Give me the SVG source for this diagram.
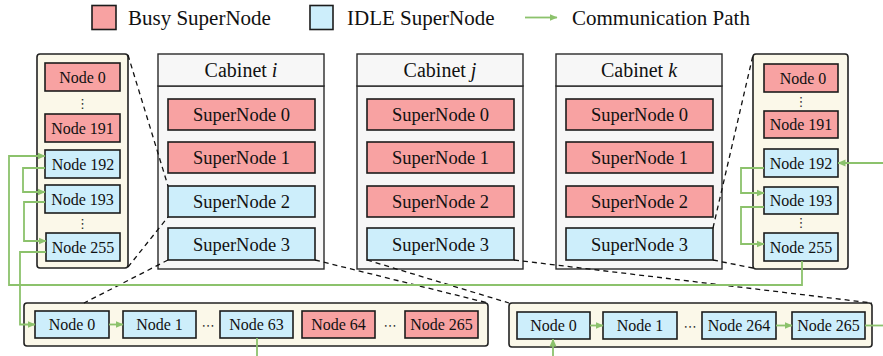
<svg xmlns="http://www.w3.org/2000/svg" width="883" height="356" viewBox="0 0 883 356">
  <style>
    .busy { fill: #f8a2a2; stroke: #1c1c1c; stroke-width: 1.6; }
    .idle { fill: #cdeefb; stroke: #1c1c1c; stroke-width: 1.6; }
    .panel { fill: #fbf8e9; stroke: #222; stroke-width: 1.6; }
    .cab { fill: #f7f7f7; stroke: #2a2a2a; stroke-width: 1.4; }
    .t { font-family: "Liberation Serif", "Times New Roman", serif; fill: #111; text-anchor: middle; }
    .n { font-size: 16px; }
    .sn { font-size: 18.5px; }
    .hd { font-size: 20px; }
    .lg { font-family: "Liberation Serif", "Times New Roman", serif; font-size: 21px; fill: #111; }
    .dots { font-family: "DejaVu Sans", sans-serif; font-size: 13px; fill: #333; text-anchor: middle; }
    .dash { fill: none; stroke: #111; stroke-width: 1.3; stroke-dasharray: 5 4; }
    .link { fill: none; stroke: #8cc26c; stroke-width: 1.8; }
    .arr { marker-end: url(#head); }
  </style>
  <defs>
    <marker id="head" viewBox="0 0 8 8" refX="7.5" refY="4" markerWidth="8" markerHeight="8" markerUnits="userSpaceOnUse" orient="auto">
      <path d="M0,0.5 L8,4 L0,7.5 Z" fill="#8cc26c"/>
    </marker>
  </defs>

  <!-- legend -->
  <g id="legend">
    <rect class="busy" x="92" y="5.5" width="24" height="24"/>
    <text class="lg" x="128" y="25">Busy SuperNode</text>
    <rect class="idle" x="310" y="5.5" width="23" height="24"/>
    <text class="lg" x="347" y="25">IDLE SuperNode</text>
    <line class="link arr" x1="525" y1="17.5" x2="557" y2="17.5"/>
    <text class="lg" x="572" y="25">Communication Path</text>
  </g>

  <!-- cabinets -->
  <g id="cabinet-i">
    <rect class="cab" x="158" y="86" width="166" height="183"/>
    <rect class="cab" x="158" y="54" width="166" height="32"/>
    <text class="t hd" x="241" y="77">Cabinet <tspan font-style="italic">i</tspan></text>
    <rect class="busy" x="168" y="99" width="147" height="31"/>
    <text class="t sn" x="241.5" y="121">SuperNode 0</text>
    <rect class="busy" x="168" y="142" width="147" height="31"/>
    <text class="t sn" x="241.5" y="164">SuperNode 1</text>
    <rect class="idle" x="168" y="186" width="147" height="31"/>
    <text class="t sn" x="241.5" y="208">SuperNode 2</text>
    <rect class="idle" x="168" y="228" width="147" height="32"/>
    <text class="t sn" x="241.5" y="250.5">SuperNode 3</text>
  </g>
  <g id="cabinet-j">
    <rect class="cab" x="357" y="86" width="166" height="183"/>
    <rect class="cab" x="357" y="54" width="166" height="32"/>
    <text class="t hd" x="440" y="77">Cabinet <tspan font-style="italic">j</tspan></text>
    <rect class="busy" x="367" y="99" width="147" height="31"/>
    <text class="t sn" x="440.5" y="121">SuperNode 0</text>
    <rect class="busy" x="367" y="142" width="147" height="31"/>
    <text class="t sn" x="440.5" y="164">SuperNode 1</text>
    <rect class="busy" x="367" y="186" width="147" height="31"/>
    <text class="t sn" x="440.5" y="208">SuperNode 2</text>
    <rect class="idle" x="367" y="228" width="147" height="32"/>
    <text class="t sn" x="440.5" y="250.5">SuperNode 3</text>
  </g>
  <g id="cabinet-k">
    <rect class="cab" x="556" y="86" width="166" height="183"/>
    <rect class="cab" x="556" y="54" width="166" height="32"/>
    <text class="t hd" x="639" y="77">Cabinet <tspan font-style="italic">k</tspan></text>
    <rect class="busy" x="566" y="99" width="147" height="31"/>
    <text class="t sn" x="639.5" y="121">SuperNode 0</text>
    <rect class="busy" x="566" y="142" width="147" height="31"/>
    <text class="t sn" x="639.5" y="164">SuperNode 1</text>
    <rect class="busy" x="566" y="186" width="147" height="31"/>
    <text class="t sn" x="639.5" y="208">SuperNode 2</text>
    <rect class="idle" x="566" y="228" width="147" height="32"/>
    <text class="t sn" x="639.5" y="250.5">SuperNode 3</text>
  </g>

  <!-- expanded SuperNode 2 of cabinet i -->
  <g id="panel-left">
    <rect class="panel" x="37" y="54" width="91" height="214" rx="3"/>
    <rect class="busy" x="45" y="63" width="75" height="28"/>
    <text class="t n" x="82.5" y="82.5">Node 0</text>
    <text class="dots" x="82.5" y="108">⋮</text>
    <rect class="busy" x="45" y="114" width="75" height="28"/>
    <text class="t n" x="82.5" y="133.5">Node 191</text>
    <rect class="idle" x="45" y="150" width="75" height="28"/>
    <text class="t n" x="83" y="169.5">Node 192</text>
    <rect class="idle" x="45" y="185" width="75" height="28"/>
    <text class="t n" x="82.5" y="204.5">Node 193</text>
    <text class="dots" x="82.5" y="228">⋮</text>
    <rect class="idle" x="46" y="233" width="74" height="28"/>
    <text class="t n" x="83" y="252.5">Node 255</text>
  </g>

  <!-- expanded SuperNode 3 of cabinet k -->
  <g id="panel-right">
    <rect class="panel" x="753" y="54" width="95" height="215" rx="3"/>
    <rect class="busy" x="764" y="64" width="74" height="28"/>
    <text class="t n" x="803" y="83.5">Node 0</text>
    <text class="dots" x="801" y="106">⋮</text>
    <rect class="busy" x="764" y="111" width="74" height="27"/>
    <text class="t n" x="801" y="130">Node 191</text>
    <rect class="idle" x="764" y="149" width="74" height="28"/>
    <text class="t n" x="801" y="168.5">Node 192</text>
    <rect class="idle" x="764" y="187" width="74" height="27"/>
    <text class="t n" x="801" y="206">Node 193</text>
    <text class="dots" x="801" y="227">⋮</text>
    <rect class="idle" x="764" y="233" width="74" height="28"/>
    <text class="t n" x="801" y="252.5">Node 255</text>
  </g>

  <!-- expanded SuperNode 3 of cabinet i -->
  <g id="panel-bottom-left">
    <rect class="panel" x="24" y="303" width="464" height="43" rx="3"/>
    <rect class="idle" x="35" y="311" width="74" height="27"/>
    <text class="t n" x="72" y="330">Node 0</text>
    <rect class="idle" x="123" y="311" width="73" height="27"/>
    <text class="t n" x="159.5" y="330">Node 1</text>
    <text class="dots" x="208" y="330">⋯</text>
    <rect class="idle" x="220" y="311" width="73" height="27"/>
    <text class="t n" x="256.5" y="330">Node 63</text>
    <rect class="busy" x="302" y="311" width="73" height="27"/>
    <text class="t n" x="338.5" y="330">Node 64</text>
    <text class="dots" x="390" y="330">⋯</text>
    <rect class="busy" x="405" y="311" width="73" height="27"/>
    <text class="t n" x="441.5" y="330">Node 265</text>
  </g>

  <!-- expanded SuperNode 3 of cabinet j -->
  <g id="panel-bottom-right">
    <rect class="panel" x="509" y="303" width="363" height="44" rx="3"/>
    <rect class="idle" x="517" y="312" width="73" height="27"/>
    <text class="t n" x="553.5" y="331">Node 0</text>
    <rect class="idle" x="603" y="312" width="74" height="27"/>
    <text class="t n" x="640" y="331">Node 1</text>
    <text class="dots" x="690" y="331">⋯</text>
    <rect class="idle" x="702" y="312" width="74" height="27"/>
    <text class="t n" x="739" y="331">Node 264</text>
    <rect class="idle" x="792" y="312" width="73" height="27"/>
    <text class="t n" x="828.5" y="331">Node 265</text>
  </g>

  <!-- zoom guides and communication paths -->
  <g id="connectors">
    <line class="dash" x1="128" y1="55" x2="168" y2="186"/>
    <line class="dash" x1="128" y1="267" x2="168" y2="217"/>
    <line class="dash" x1="168" y1="260" x2="84" y2="303"/>
    <line class="dash" x1="315" y1="260" x2="488" y2="303"/>
    <line class="dash" x1="367" y1="260" x2="509" y2="303"/>
    <line class="dash" x1="514" y1="260" x2="872" y2="303"/>
    <line class="dash" x1="713" y1="228" x2="753" y2="55"/>
    <line class="dash" x1="713" y1="260" x2="753" y2="268"/>

    <polyline class="link arr" points="802,261 802,285 9,285 9,156 45,156"/>
    <polyline class="link arr" points="45,168 23,168 23,192 45,192"/>
    <polyline class="link arr" points="45,202 24,202 24,241 46,241"/>
    <polyline class="link arr" points="46,252 20,252 20,324.5 35,324.5"/>
    <line class="link arr" x1="109" y1="324.5" x2="123" y2="324.5"/>
    <line class="link" x1="257" y1="338" x2="257" y2="356"/>

    <line class="link arr" x1="553" y1="356" x2="553" y2="339"/>
    <line class="link arr" x1="590" y1="325.5" x2="603" y2="325.5"/>
    <line class="link arr" x1="776" y1="325.5" x2="792" y2="325.5"/>
    <line class="link" x1="865" y1="325.5" x2="883" y2="325.5"/>

    <line class="link arr" x1="883" y1="163" x2="838" y2="163"/>
    <polyline class="link arr" points="764,168 741,168 741,193 764,193"/>
    <polyline class="link arr" points="764,207 741,207 741,244 764,244"/>
  </g>
</svg>
